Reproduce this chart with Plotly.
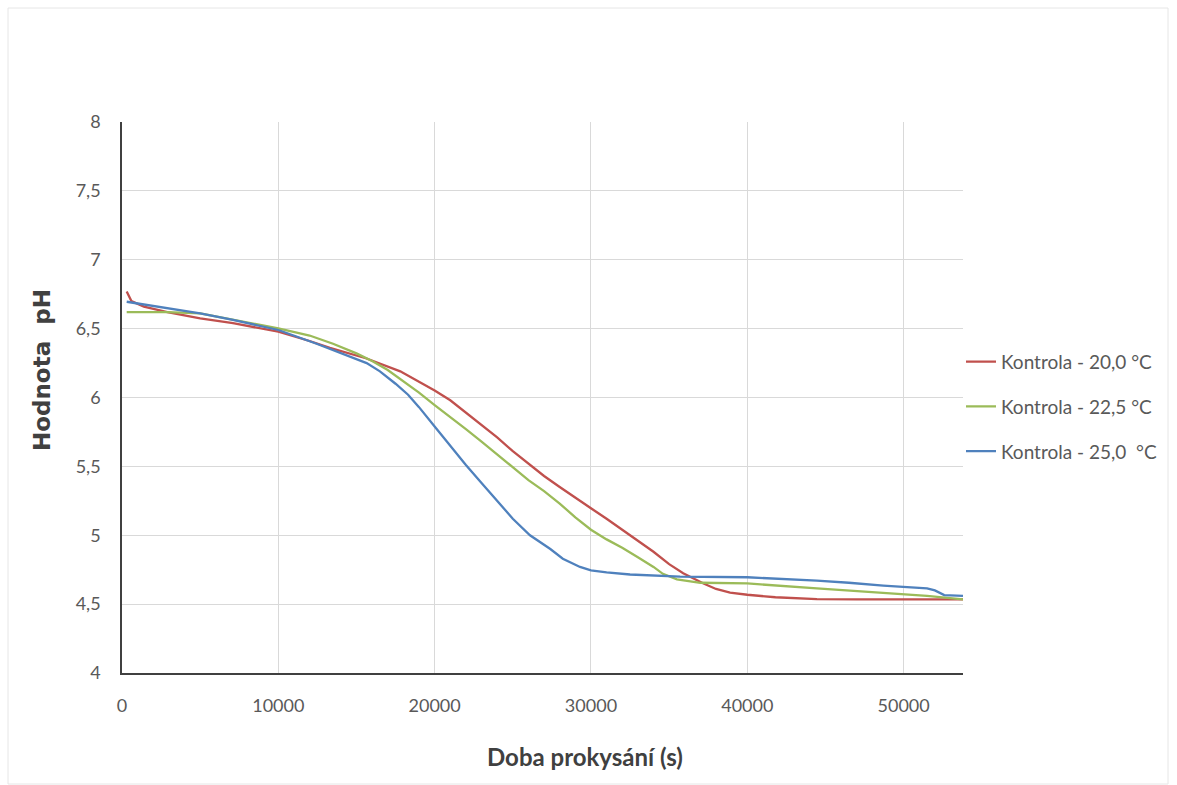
import plotly.graph_objects as go

# Kontrola - 20,0 °C
t_20 = [300, 600, 1400, 2900, 5000, 7100, 10000, 12000, 13300, 15600, 17800, 20000, 21000, 22000,
        23000, 24000, 25000, 26200, 27000, 28000, 29000, 30000, 31000, 32000, 33000, 34000, 35000,
        35900, 37200, 38000, 38900, 40000, 41800, 44450, 47000, 50000, 53800]
ph_20 = [6.77, 6.70, 6.66, 6.62, 6.575, 6.54, 6.478, 6.41, 6.36, 6.285, 6.19, 6.05, 5.98, 5.89,
         5.80, 5.71, 5.61, 5.50, 5.43, 5.35, 5.27, 5.196, 5.12, 5.04, 4.96, 4.88, 4.79,
         4.724, 4.65, 4.61, 4.583, 4.568, 4.55, 4.537, 4.535, 4.535, 4.535]

# Kontrola - 22,5 °C
t_22 = [300, 2900, 5000, 7100, 10000, 12000, 13500, 15000, 16000, 17000, 18000, 19000, 20000, 21000,
        22000, 23000, 24000, 25000, 26000, 27000, 28000, 29000, 30000, 31000, 32000, 33000, 34000,
        34600, 35500, 37000, 40000, 44450, 48700, 51500, 53800]
ph_22 = [6.62, 6.62, 6.61, 6.563, 6.502, 6.45, 6.39, 6.32, 6.265, 6.20, 6.12, 6.035, 5.945, 5.86,
         5.77, 5.68, 5.585, 5.49, 5.40, 5.32, 5.23, 5.13, 5.04, 4.97, 4.91, 4.84, 4.77,
         4.72, 4.68, 4.655, 4.65, 4.615, 4.58, 4.56, 4.535]

# Kontrola - 25,0 °C
t_25 = [300, 2900, 5000, 7100, 10000, 12450, 14000, 15650, 16500, 17500, 18300, 19000, 20000, 21000,
        22000, 23000, 24000, 25000, 26100, 27400, 28200, 29300, 30000, 31000, 32500, 35700, 40000,
        42000, 44450, 46500, 48700, 51500, 52000, 52600, 53800]
ph_25 = [6.695, 6.647, 6.61, 6.563, 6.49, 6.39, 6.32, 6.25, 6.19, 6.10, 6.02, 5.93, 5.79, 5.65,
         5.51, 5.38, 5.25, 5.12, 5.00, 4.90, 4.83, 4.77, 4.745, 4.73, 4.715, 4.70, 4.695,
         4.685, 4.67, 4.655, 4.635, 4.615, 4.60, 4.566, 4.56]

series_names = ["Kontrola - 20,0 °C", "Kontrola - 22,5 °C", "Kontrola - 25,0  °C"]
colors = ["#C0504D", "#9BBB59", "#4F81BD"]

FONT = "Lato, sans-serif"

fig = go.Figure()
for i, (t, ph) in enumerate([(t_20, ph_20), (t_22, ph_22), (t_25, ph_25)]):
    fig.add_trace(go.Scatter(
        x=t, y=ph, mode="lines", name=series_names[i].replace("  ", "&nbsp; "),
        line=dict(color=colors[i], width=2.3),
        legendgroup=f"g{i}",
    ))

fig.update_layout(
    width=1177, height=785,
    margin=dict(l=122, r=214, t=122, b=112, autoexpand=False),
    paper_bgcolor="white", plot_bgcolor="white",
    separators=", ",
    font=dict(family=FONT, size=18, color="#595959"),
    showlegend=True,
    legend=dict(
        x=(961 - 122) / 841, y=0.483, xanchor="left", yanchor="middle",
        font=dict(family=FONT, size=19, color="#595959"),
        itemwidth=30, tracegroupgap=17, bgcolor="rgba(0,0,0,0)",
    ),
    xaxis=dict(
        range=[0, 53800], tickvals=[0, 10000, 20000, 30000, 40000, 50000], tickformat="d",
        showgrid=True, gridcolor="#D9D9D9", gridwidth=1,
        showline=True, linecolor="#404040", linewidth=1.5,
        ticks="", zeroline=False, ticklabelstandoff=16,
        tickfont=dict(family=FONT, size=18, color="#595959"),
    ),
    yaxis=dict(
        range=[4, 8], dtick=0.5,
        showgrid=True, gridcolor="#D9D9D9", gridwidth=1,
        showline=True, linecolor="#404040", linewidth=1.5,
        ticks="", zeroline=False, ticklabelstandoff=16,
        tickfont=dict(family=FONT, size=18, color="#595959"),
    ),
    annotations=[
        dict(text="<b>Doba prokysání (s)</b>", xref="paper", yref="paper",
             x=0.5505, y=-0.152, xanchor="center", yanchor="middle", showarrow=False,
             font=dict(family=FONT, size=24, color="#404040")),
        dict(text="<b>Hodnota&nbsp; pH</b>", xref="paper", yref="paper",
             x=-0.095, y=0.55, xanchor="center", yanchor="middle", showarrow=False,
             textangle=-90,
             font=dict(family="'DejaVu Sans', Verdana, sans-serif", size=23, color="#404040")),
    ],
    shapes=[
        dict(type="rect", xref="paper", yref="paper",
             x0=(8 - 122) / 841, x1=(1168 - 122) / 841,
             y0=(673 - 784) / 551, y1=(673 - 8) / 551,
             line=dict(color="#E6E6E6", width=1), fillcolor="rgba(0,0,0,0)", layer="below"),
    ],
)

fig.write_html("out.html")
